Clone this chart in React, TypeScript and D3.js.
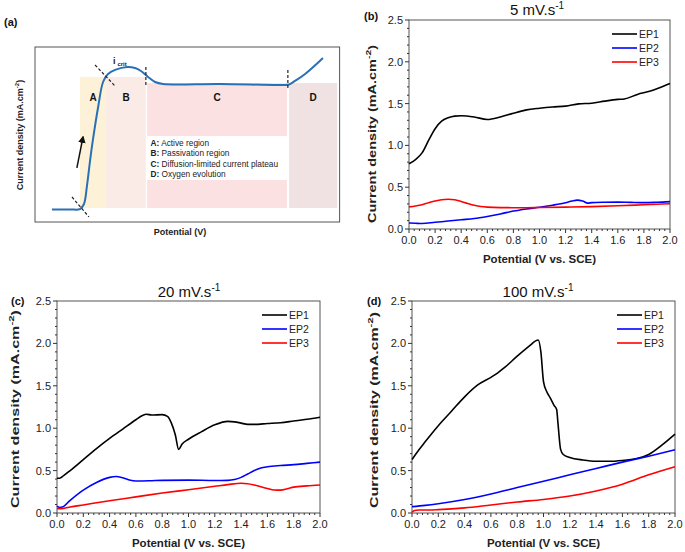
import React from "react";
import * as d3 from "d3";

// ---------- shared axis data ----------
const potentialTicks = [0, 0.2, 0.4, 0.6, 0.8, 1.0, 1.2, 1.4, 1.6, 1.8, 2.0];
const currentTicks = [0, 0.5, 1.0, 1.5, 2.0, 2.5];
const seriesNames = ["EP1", "EP2", "EP3"];
const seriesColors = ["#000000", "#0000ff", "#ff0000"];

// ---------- panel (b) 5 mV/s ----------
const bEP1x = [0, 0.05, 0.1, 0.15, 0.2, 0.25, 0.3, 0.35, 0.4, 0.5, 0.6, 0.7, 0.8, 0.9, 1.0, 1.1, 1.2, 1.3, 1.4, 1.5, 1.6, 1.65, 1.75, 1.85, 1.92, 2.0];
const bEP1y = [0.78, 0.83, 0.91, 1.06, 1.2, 1.29, 1.33, 1.35, 1.355, 1.34, 1.31, 1.34, 1.385, 1.425, 1.445, 1.46, 1.47, 1.497, 1.505, 1.53, 1.55, 1.555, 1.61, 1.65, 1.69, 1.74];
const bEP2x = [0, 0.05, 0.1, 0.2, 0.3, 0.4, 0.5, 0.6, 0.7, 0.8, 0.9, 1.0, 1.1, 1.2, 1.25, 1.29, 1.33, 1.37, 1.4, 1.5, 1.6, 1.7, 1.8, 1.9, 2.0];
const bEP2y = [0.072, 0.068, 0.065, 0.08, 0.095, 0.11, 0.125, 0.15, 0.18, 0.215, 0.24, 0.26, 0.285, 0.315, 0.335, 0.345, 0.335, 0.31, 0.315, 0.32, 0.322, 0.318, 0.315, 0.32, 0.328];
const bEP3x = [0, 0.05, 0.1, 0.15, 0.2, 0.25, 0.3, 0.35, 0.4, 0.45, 0.5, 0.55, 0.6, 0.7, 0.8, 0.9, 1.0, 1.2, 1.4, 1.6, 1.8, 2.0];
const bEP3y = [0.265, 0.275, 0.29, 0.315, 0.335, 0.35, 0.355, 0.35, 0.33, 0.305, 0.285, 0.27, 0.262, 0.256, 0.255, 0.255, 0.257, 0.262, 0.268, 0.278, 0.29, 0.302];

// ---------- panel (c) 20 mV/s ----------
const cEP1x = [0, 0.02, 0.05, 0.1, 0.2, 0.3, 0.4, 0.5, 0.6, 0.65, 0.68, 0.72, 0.8, 0.84, 0.87, 0.9, 0.925, 0.95, 1.0, 1.1, 1.2, 1.3, 1.35, 1.4, 1.45, 1.5, 1.6, 1.7, 1.8, 1.9, 2.0];
const cEP1y = [0.41, 0.41, 0.44, 0.5, 0.63, 0.76, 0.88, 0.99, 1.1, 1.15, 1.165, 1.155, 1.16, 1.14, 1.06, 0.92, 0.75, 0.81, 0.87, 0.96, 1.04, 1.08, 1.075, 1.06, 1.045, 1.045, 1.055, 1.065, 1.085, 1.105, 1.13];
const cEP2x = [0, 0.02, 0.04, 0.1, 0.2, 0.3, 0.4, 0.45, 0.5, 0.55, 0.6, 0.7, 0.8, 1.0, 1.2, 1.3, 1.35, 1.4, 1.45, 1.5, 1.55, 1.6, 1.7, 1.8, 1.9, 2.0];
const cEP2y = [0.08, 0.065, 0.07, 0.15, 0.27, 0.36, 0.42, 0.43, 0.415, 0.39, 0.378, 0.38, 0.385, 0.388, 0.383, 0.385, 0.395, 0.42, 0.46, 0.5, 0.53, 0.545, 0.56, 0.57, 0.585, 0.6];
const cEP3x = [0, 0.05, 0.1, 0.2, 0.4, 0.6, 0.8, 1.0, 1.2, 1.3, 1.4, 1.45, 1.5, 1.6, 1.65, 1.7, 1.75, 1.8, 1.9, 2.0];
const cEP3y = [0.05, 0.055, 0.07, 0.095, 0.145, 0.19, 0.235, 0.275, 0.315, 0.335, 0.35, 0.345, 0.33, 0.29, 0.272, 0.27, 0.285, 0.305, 0.32, 0.33];

// ---------- panel (d) 100 mV/s ----------
const dEP1x = [0, 0.05, 0.1, 0.2, 0.3, 0.4, 0.5, 0.6, 0.65, 0.7, 0.8, 0.9, 0.94, 0.96, 0.98, 1.0, 1.025, 1.05, 1.08, 1.1, 1.11, 1.13, 1.15, 1.2, 1.3, 1.4, 1.5, 1.6, 1.7, 1.8, 1.9, 2.0];
const dEP1y = [0.63, 0.74, 0.84, 1.03, 1.2, 1.37, 1.51, 1.6, 1.65, 1.71, 1.85, 1.98, 2.03, 2.04, 1.9, 1.55, 1.43, 1.36, 1.27, 1.22, 1.06, 0.75, 0.69, 0.655, 0.625, 0.61, 0.61, 0.62, 0.64, 0.69, 0.8, 0.93];
const dEP2x = [0, 0.1, 0.2, 0.4, 0.6, 0.8, 1.0, 1.2, 1.4, 1.6, 1.8, 2.0];
const dEP2y = [0.075, 0.09, 0.11, 0.16, 0.225, 0.3, 0.375, 0.45, 0.525, 0.6, 0.67, 0.745];
const dEP3x = [0, 0.02, 0.05, 0.1, 0.2, 0.4, 0.6, 0.8, 1.0, 1.2, 1.4, 1.6, 1.8, 2.0];
const dEP3y = [0.01, 0.03, 0.035, 0.035, 0.04, 0.06, 0.095, 0.13, 0.16, 0.2, 0.26, 0.34, 0.45, 0.545];

// ---------- panel (a) schematic (arbitrary 0-100 units) ----------
const schemU = [5.5, 11.4, 14.6, 15.9, 16.9, 17.9, 18.8, 20.5, 22.1, 23.7, 26.0, 29.9, 32.5, 34.4, 36.7, 39.0, 41.6, 60.1, 80.5, 82.5, 84.4, 87.7, 93.5];
const schemV = [7.2, 7.2, 7.4, 10.3, 21.1, 35.4, 46.9, 65.7, 80.0, 84.6, 86.9, 88.6, 88.0, 86.3, 82.9, 80.0, 78.9, 78.9, 78.3, 78.6, 80.6, 84.6, 93.7];
const regionNames = ["A", "B", "C", "D"];
const regionDescriptions = ["Active region", "Passivation region", "Diffusion-limited current plateau", "Oxygen evolution"];
const regionStart = [14.6, 23.1, 36.4, 82.5];
const regionEnd = [23.1, 36.0, 81.8, 98.1];
const regionTop = [82.9, 82.9, 79.4, 79.4];
const regionBottom = 8.0;
const regionColors = ["#fdf2d8", "#fbebe7", "#fbe1e1", "#f0e2e2"];

const FONT = "'Liberation Sans', Arial, Helvetica, sans-serif";

type PanelProps = {
  left: number; right: number; top: number; bottom: number;
  tag: string; tagX: number; tagY: number;
  rate: string; titleX: number; titleY: number;
  yTitleX: number; yTitleY: number; yTitleLen: number;
  xs: number[][]; ys: number[][];
};

function Panel(p: PanelProps) {
  const x = d3.scaleLinear().domain([0, 2]).range([p.left, p.right]);
  const y = d3.scaleLinear().domain([0, 2.5]).range([p.bottom, p.top]);
  const line = d3.line<[number, number]>().x((d) => x(d[0])).y((d) => y(d[1])).curve(d3.curveMonotoneX);
  const xMinor = d3.range(0, 2.0001, 0.04).filter((v) => Math.abs(v / 0.2 - Math.round(v / 0.2)) > 1e-6);
  const yMinor = d3.range(0, 2.5001, 0.1).filter((v) => Math.abs(v / 0.5 - Math.round(v / 0.5)) > 1e-6);
  const legX = p.right - 58;
  return (
    <g>
      <rect x={p.left} y={p.top} width={p.right - p.left} height={p.bottom - p.top} fill="none" stroke="#555" strokeWidth={1} />
      {potentialTicks.map((t) => (
        <g key={"xt" + t}>
          <line x1={x(t)} x2={x(t)} y1={p.bottom} y2={p.bottom + 4} stroke="#333" />
          <text x={x(t)} y={p.bottom + 15} textAnchor="middle" fontSize={11} fill="#222">{t.toFixed(1)}</text>
        </g>
      ))}
      {xMinor.map((t) => (
        <line key={"xm" + t} x1={x(t)} x2={x(t)} y1={p.bottom} y2={p.bottom + 2} stroke="#333" />
      ))}
      {currentTicks.map((t) => (
        <g key={"yt" + t}>
          <line x1={p.left - 4} x2={p.left} y1={y(t)} y2={y(t)} stroke="#333" />
          <text x={p.left - 6} y={y(t) + 4} textAnchor="end" fontSize={11} fill="#222">{t.toFixed(1)}</text>
        </g>
      ))}
      {yMinor.map((t) => (
        <line key={"ym" + t} x1={p.left - 2} x2={p.left} y1={y(t)} y2={y(t)} stroke="#333" />
      ))}
      {p.xs.map((xs, i) => (
        <path key={"s" + i} d={line(xs.map((v, j) => [v, p.ys[i][j]] as [number, number])) || ""} fill="none" stroke={seriesColors[i]} strokeWidth={1.6} />
      ))}
      {seriesNames.map((n, i) => (
        <g key={"lg" + n}>
          <line x1={legX} x2={legX + 25} y1={p.top + 14 + i * 14} y2={p.top + 14 + i * 14} stroke={seriesColors[i]} strokeWidth={1.6} />
          <text x={legX + 27} y={p.top + 18 + i * 14} fontSize={10.5} fill="#222">{n}</text>
        </g>
      ))}
      <text x={(p.left + p.right) / 2} y={p.bottom + 34} textAnchor="middle" fontSize={11.5} fontWeight="bold" fill="#222">Potential (V vs. SCE)</text>
      <text transform={`translate(${p.yTitleX},${p.yTitleY}) rotate(-90)`} textAnchor="middle" fontSize={10.5} fontWeight="bold" fill="#222" dominantBaseline="central" textLength={p.yTitleLen} lengthAdjust="spacingAndGlyphs">
        Current density (mA.cm<tspan fontSize={7.5} dy={-4}>-2</tspan><tspan dy={4}>)</tspan>
      </text>
      <text x={p.titleX} y={p.titleY} textAnchor="middle" fontSize={15} fill="#111">
        {p.rate} mV.s<tspan fontSize={10} dy={-6}>-1</tspan>
      </text>
      <text x={p.tagX} y={p.tagY} fontSize={11} fontWeight="bold" fill="#111">{p.tag}</text>
    </g>
  );
}

function Schematic() {
  const xa = d3.scaleLinear().domain([0, 100]).range([35, 343]);
  const ya = d3.scaleLinear().domain([0, 100]).range([222, 47]);
  const line = d3.line<[number, number]>().x((d) => xa(d[0])).y((d) => ya(d[1])).curve(d3.curveCatmullRom);
  const pts = schemU.map((u, i) => [u, schemV[i]] as [number, number]);
  return (
    <g>
      <text x={4} y={26} fontSize={11} fontWeight="bold" fill="#111">(a)</text>
      {regionNames.map((n, i) => (
        <rect key={"r" + n} x={xa(regionStart[i])} y={ya(regionTop[i])} width={xa(regionEnd[i]) - xa(regionStart[i])} height={ya(regionBottom) - ya(regionTop[i])} fill={regionColors[i]} />
      ))}
      <rect x={xa(36.4)} y={ya(49.1)} width={xa(81.8) - xa(36.4)} height={ya(24.0) - ya(49.1)} fill="#ffffff" />
      {regionNames.map((n, i) => (
        <text key={"rl" + n} x={xa((regionStart[i] + regionEnd[i]) / 2)} y={ya(71.4)} textAnchor="middle" dominantBaseline="central" fontSize={10} fontWeight="bold" fill="#111">{n}</text>
      ))}
      {regionNames.map((n, i) => (
        <text key={"rd" + n} x={xa(37.5)} y={ya(45.3 - i * 6)} dominantBaseline="central" fontSize={8.3} fill="#222">
          <tspan fontWeight="bold">{n}:</tspan> {regionDescriptions[i]}
        </text>
      ))}
      <rect x={xa(0)} y={ya(100)} width={xa(98.9) - xa(0)} height={ya(0) - ya(100)} fill="none" stroke="#555" strokeWidth={1} />
      <path d={line(pts) || ""} fill="none" stroke="#2a70b5" strokeWidth={2} />
      <line x1={xa(12.0)} y1={ya(14.3)} x2={xa(17.5)} y2={ya(2.9)} stroke="#222" strokeWidth={1.2} strokeDasharray="3,2" />
      <line x1={xa(19.5)} y1={ya(89.7)} x2={xa(26.0)} y2={ya(77.7)} stroke="#222" strokeWidth={1.2} strokeDasharray="3,2" />
      <line x1={xa(36.0)} y1={ya(88.6)} x2={xa(36.0)} y2={ya(77.1)} stroke="#222" strokeWidth={1.2} strokeDasharray="3,2" />
      <line x1={xa(82.1)} y1={ya(86.9)} x2={xa(82.1)} y2={ya(76.6)} stroke="#222" strokeWidth={1.2} strokeDasharray="3,2" />
      <defs>
        <marker id="arr" viewBox="0 0 10 10" refX="8" refY="5" markerWidth="5" markerHeight="5" orient="auto">
          <path d="M0,0 L10,5 L0,10 z" fill="#111" />
        </marker>
      </defs>
      <line x1={xa(13.6)} y1={ya(30.9)} x2={xa(15.6)} y2={ya(48.6)} stroke="#111" strokeWidth={1.5} markerEnd="url(#arr)" />
      <text x={xa(25.3)} y={ya(90.5)} fontSize={9} fontWeight="bold" fill="#222">i<tspan fontSize={6} dy={2} dx={2}>crit</tspan></text>
      <text transform={`translate(20,135) rotate(-90)`} textAnchor="middle" dominantBaseline="central" fontSize={9} fontWeight="bold" fill="#222">
        Current density (mA.cm<tspan fontSize={6} dy={-3}>-2</tspan><tspan dy={3}>)</tspan>
      </text>
      <text x={180} y={235} textAnchor="middle" fontSize={9} fontWeight="bold" fill="#222">Potential (V)</text>
    </g>
  );
}

export default function App() {
  return (
    <svg width={685} height={552} style={{ position: "absolute", left: 0, top: 0, background: "#fff", fontFamily: FONT }}>
      <Schematic />
      <Panel left={409} right={670} top={20} bottom={229} tag="(b)" tagX={364} tagY={20} rate="5" titleX={537} titleY={15}
        yTitleX={372} yTitleY={134} yTitleLen={178} xs={[bEP1x, bEP2x, bEP3x]} ys={[bEP1y, bEP2y, bEP3y]} />
      <Panel left={57} right={320} top={301} bottom={513} tag="(c)" tagX={11} tagY={305} rate="20" titleX={189} titleY={297}
        yTitleX={15} yTitleY={409} yTitleLen={198} xs={[cEP1x, cEP2x, cEP3x]} ys={[cEP1y, cEP2y, cEP3y]} />
      <Panel left={412} right={675} top={301} bottom={513} tag="(d)" tagX={367} tagY={305} rate="100" titleX={538} titleY={297}
        yTitleX={374} yTitleY={410} yTitleLen={196} xs={[dEP1x, dEP2x, dEP3x]} ys={[dEP1y, dEP2y, dEP3y]} />
    </svg>
  );
}
